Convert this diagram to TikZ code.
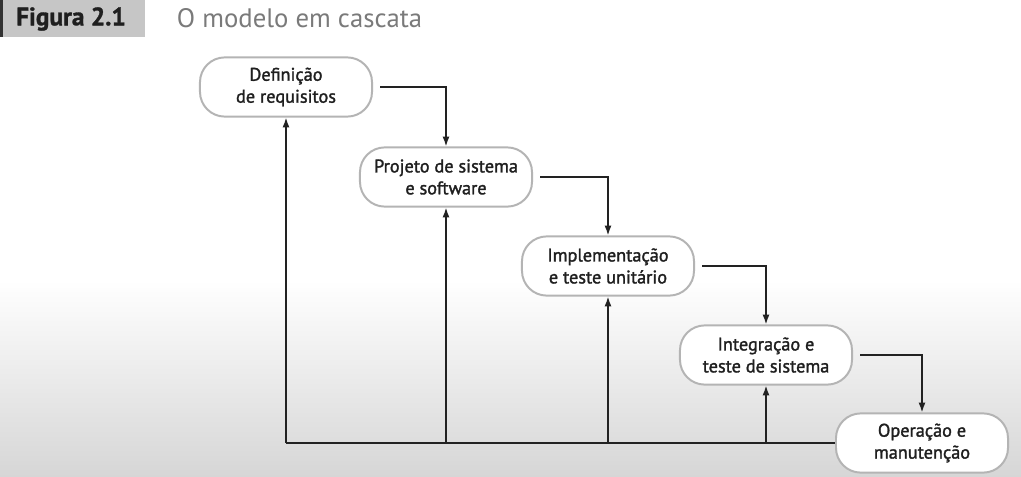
\documentclass[tikz,border=0pt]{standalone}
\usepackage{fontspec}
\setmainfont{PT Sans}
\newfontfamily\phasefont[FakeBold=1.6]{PT Sans}
\newfontfamily\figfont[FakeBold=1.2]{PT Sans Bold}
\usetikzlibrary{arrows.meta}
\definecolor{boxline}{HTML}{B4B4B4}
\definecolor{arrline}{HTML}{222222}
\definecolor{titlebg}{HTML}{C6C6C6}
\definecolor{titlegray}{HTML}{7A7A7A}
\begin{document}
\begin{tikzpicture}
        [x=0.025cm,y=-0.025cm,
        phase/.style={draw=boxline,line width=1.4pt,fill=white,rounded corners=0.62cm,
          minimum width=4.3cm,minimum height=1.48cm,align=center,
          font=\phasefont\fontsize{13}{15.6}\selectfont,text=black!88},
        line/.style={draw=arrline,line width=1pt},
        arr/.style={line,-{Latex[length=7pt,width=5pt]}}]
        % background and title
        \useasboundingbox (0,0) rectangle (1021,476);
        \fill[white] (0,0) rectangle (1021,280);
        \shade[top color=white,bottom color=black!16] (0,280) rectangle (1021,476);
        \fill[titlebg] (0,0) rectangle (145,37);
        \fill[black!80] (0,0) rectangle (3,37);
        \node (fig) at (71,19) [text=black!88] {\figfont\fontsize{18}{21}\selectfont Figura 2.1};
        \node (title) at (172,18) [anchor=west,text=titlegray] {\fontsize{19}{22}\selectfont O modelo em cascata};
        % phases
        \node (def) at (286,87) [phase] {Definição\\de requisitos};
        \node (proj) at (446,177) [phase] {Projeto de sistema\\e software};
        \node (impl) at (608,266) [phase] {Implementação\\e teste unitário};
        \node (integ) at (766,355) [phase] {Integração e\\teste de sistema};
        \node (oper) at (922,443) [phase] {Operação e\\manutenção};
        % forward arrows
        \draw[arr,shorten <=5pt] (def.east) -| (proj.north);
        \draw[arr,shorten <=5pt] (proj.east) -| (impl.north);
        \draw[arr,shorten <=5pt] (impl.east) -| (integ.north);
        \draw[arr,shorten <=5pt] (integ.east) -| (oper.north);
        % feedback
        \draw[line] (oper.west) -- (def |- oper.west);
        \foreach \n in {def,proj,impl,integ}
          \draw[arr] (\n |- oper.west) -- (\n.south);
\end{tikzpicture}
\end{document}
